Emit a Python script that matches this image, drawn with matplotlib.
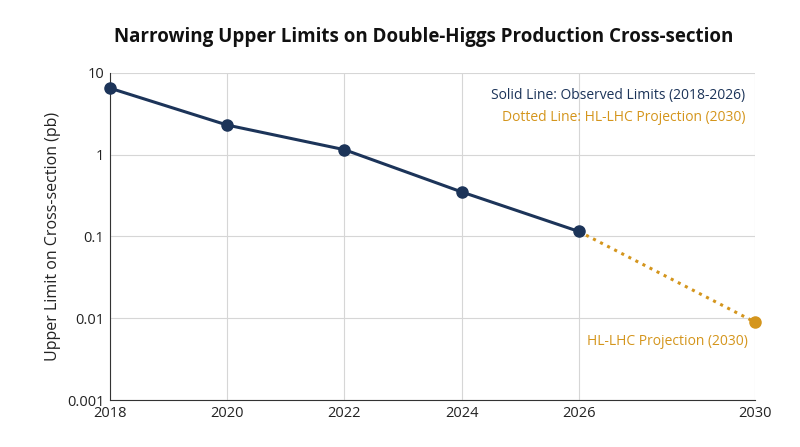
import matplotlib
matplotlib.use("Agg")
import numpy as np
import matplotlib.pyplot as plt
from matplotlib.ticker import FixedLocator, FixedFormatter, NullLocator

plt.rcParams["font.family"] = ["Open Sans", "Noto Sans", "DejaVu Sans"]

years_obs = [2018, 2020, 2022, 2024, 2026]
limits_obs = [6.5, 2.3, 1.15, 0.35, 0.115]
years_proj = [2026, 2030]
limits_proj = [0.115, 0.009]
xticks = [2018, 2020, 2022, 2024, 2026, 2030]
yticks = [0.001, 0.01, 0.1, 1, 10]
ylabels = ["0.001", "0.01", "0.1", "1", "10"]

NAVY = "#1c3459"
GOLD = "#d4951c"


# x axis is compressed after 2026 (2030 sits 1.5 steps past 2026)
def fwd(x):
    x = np.asarray(x, dtype=float)
    return np.where(x <= 2026, (x - 2018) / 2, 4 + (x - 2026) * 0.375)


def inv(p):
    p = np.asarray(p, dtype=float)
    return np.where(p <= 4, 2018 + p * 2, 2026 + (p - 4) / 0.375)


fig = plt.figure(figsize=(8, 4.47), dpi=100)
ax = fig.add_axes([0.1375, 0.105, 0.806, 0.732])
ax.set_xscale("function", functions=(fwd, inv))
ax.set_yscale("log")
ax.set_xlim(2018, 2030)
ax.set_ylim(0.001, 10)

ax.plot(years_proj, limits_proj, color=GOLD, lw=2.2, ls=(0, (1, 1.6)), zorder=2)
ax.plot(years_proj[-1:], limits_proj[-1:], "o", color=GOLD, ms=8, zorder=3, clip_on=False)
ax.plot(years_obs, limits_obs, color=NAVY, lw=2.2, marker="o", ms=8, zorder=4, clip_on=False)

ax.xaxis.set_major_locator(FixedLocator(xticks))
ax.xaxis.set_major_formatter(FixedFormatter([str(x) for x in xticks]))
ax.xaxis.set_minor_locator(NullLocator())
ax.yaxis.set_major_locator(FixedLocator(yticks))
ax.yaxis.set_major_formatter(FixedFormatter(ylabels))
ax.yaxis.set_minor_locator(NullLocator())
ax.grid(True, color="#d6d6d6", lw=0.8)
ax.set_axisbelow(True)
for s in ["top", "right"]:
    ax.spines[s].set_visible(False)
for s in ["left", "bottom"]:
    ax.spines[s].set_color("#333333")
ax.tick_params(length=0, labelsize=10.5, colors="#222222", pad=4)

ax.set_ylabel("Upper Limit on Cross-section (pb)", fontsize=11.5, color="#222222")
fig.text(0.53, 0.917, "Narrowing Upper Limits on Double-Higgs Production Cross-section",
         ha="center", va="center", fontsize=13.5, fontweight="bold", color="#111111")

ax.text(0.985, 0.955, "Solid Line: Observed Limits (2018-2026)", transform=ax.transAxes,
        ha="right", va="top", fontsize=10, color=NAVY)
ax.text(0.985, 0.885, "Dotted Line: HL-LHC Projection (2030)", transform=ax.transAxes,
        ha="right", va="top", fontsize=10, color=GOLD)
ax.text(2029.85, 0.0052, "HL-LHC Projection (2030)", ha="right", va="center",
        fontsize=10, color=GOLD)

fig.savefig("out.png", dpi=100, facecolor="white")
